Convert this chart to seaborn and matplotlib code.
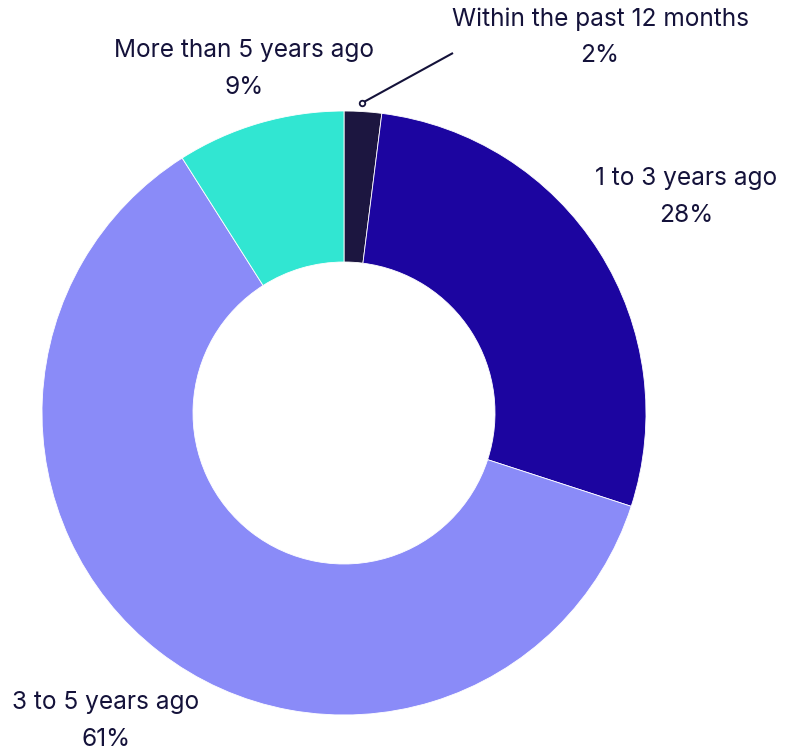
import matplotlib
matplotlib.use("Agg")
import matplotlib.pyplot as plt
import seaborn as sns

# Survey answers: when the last change happened
categories = ["Within the past 12 months", "1 to 3 years ago", "3 to 5 years ago", "More than 5 years ago"]
shares = [2, 28, 61, 9]
palette = ["#1c1640", "#1c05a0", "#8a8bf8", "#31e6d2"]

sns.set_theme(style="white")
plt.rcParams["font.family"] = ["Inter", "DejaVu Sans"]
text_color = "#14123a"

fig = plt.figure(figsize=(7.94, 7.52), dpi=100)
ax = fig.add_axes([0, 0, 1, 1])

cx, cy, r = 344, 752 - 413, 302
wedges, _ = ax.pie(
    shares,
    colors=palette,
    startangle=90,
    counterclock=False,
    center=(cx, cy),
    radius=r,
    wedgeprops=dict(width=r * 0.5, edgecolor="white", linewidth=0.6),
    frame=True,
)
ax.set_xlim(0, 794)
ax.set_ylim(0, 752)
ax.set_aspect("equal")
ax.axis("off")

# Label placement (pixel coordinates from the top-left corner)
label_pos = {
    "Within the past 12 months": (600, 19),
    "1 to 3 years ago": (686, 178),
    "3 to 5 years ago": (106, 702),
    "More than 5 years ago": (244, 50),
}
fs = 17.6
for cat, val in zip(categories, shares):
    x, y = label_pos[cat]
    ax.text(x, 752 - y, cat, ha="center", va="center", fontsize=fs, color=text_color)
    ax.text(x, 752 - (y + 37), f"{val}%", ha="center", va="center", fontsize=fs, color=text_color)

# Leader line for the small slice
ax.plot([362, 453], [752 - 103, 752 - 53], color=text_color, lw=1.5, solid_capstyle="butt")
ax.plot([362], [752 - 103], marker="o", ms=4, mfc="white", mec=text_color, mew=1.3)

fig.savefig("out.png", dpi=100)
